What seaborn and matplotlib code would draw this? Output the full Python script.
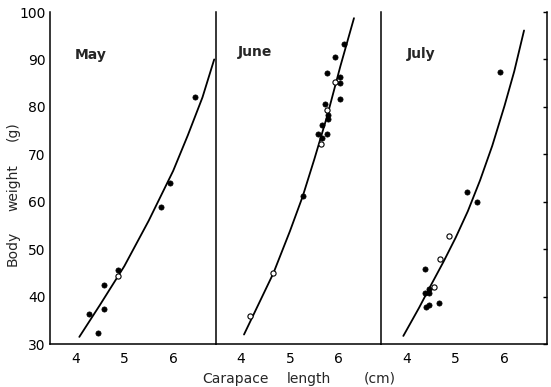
import matplotlib
matplotlib.use("Agg")
import matplotlib.pyplot as plt
import seaborn as sns
import pandas as pd

# ---- data ----
months = ["May", "June", "July"]

may_len = [4.28, 4.47, 4.58, 4.58, 4.88, 4.88, 5.76, 5.94, 6.45]
may_wt = [36.3, 32.3, 42.4, 37.4, 45.6, 44.3, 58.8, 63.9, 82.0]
may_open = [0, 0, 0, 0, 0, 1, 0, 0, 0]
may_curve_len = [4.08, 4.5, 5.0, 5.5, 6.0, 6.3, 6.6, 6.84]
may_curve_wt = [31.5, 38.2, 46.4, 56.0, 66.5, 74.0, 82.0, 90.0]

june_len = [4.18, 4.66, 5.26, 6.10, 5.92, 5.75, 6.02, 5.92, 6.03, 6.02, 5.72,
            5.76, 5.77, 5.78, 5.65, 5.58, 5.76, 5.65, 5.63]
june_wt = [35.9, 44.9, 61.1, 93.3, 90.5, 87.2, 86.3, 85.3, 85.1, 81.6, 80.6,
           79.4, 78.3, 77.5, 76.2, 74.3, 74.2, 73.4, 72.2]
june_open = [1, 1, 0, 0, 0, 0, 0, 1, 0, 0, 0, 1, 0, 0, 0, 0, 0, 0, 1]
june_curve_len = [4.06, 4.66, 5.0, 5.26, 5.5, 5.76, 6.03, 6.31]
june_curve_wt = [32.0, 44.9, 53.8, 61.1, 69.0, 78.0, 88.5, 98.7]

july_len = [4.38, 4.46, 4.55, 4.46, 4.40, 4.46, 4.66, 4.38, 4.68, 4.86, 5.23,
            5.44, 5.91]
july_wt = [40.8, 41.7, 42.1, 40.7, 37.8, 38.3, 38.7, 45.8, 47.9, 52.8, 62.0,
           60.0, 87.3]
july_open = [0, 0, 1, 0, 0, 0, 0, 0, 1, 1, 0, 0, 0]
july_curve_len = [3.93, 4.25, 4.5, 4.75, 5.0, 5.25, 5.5, 5.75, 6.0, 6.2, 6.4]
july_curve_wt = [31.7, 37.6, 42.5, 47.3, 52.4, 58.0, 64.5, 71.8, 80.2, 87.5, 96.1]

x_ticks = [4, 5, 6]
y_ticks = [30, 40, 50, 60, 70, 80, 90, 100]

x_label_words = ["Carapace", "length", "(cm)"]
y_label_words = ["Body", "weight", "(g)"]

panels = [
    (may_len, may_wt, may_open, may_curve_len, may_curve_wt),
    (june_len, june_wt, june_open, june_curve_len, june_curve_wt),
    (july_len, july_wt, july_open, july_curve_len, july_curve_wt),
]

sns.set_theme(style="white")
plt.rcParams["font.family"] = ["DejaVu Sans"]

W, H = 551, 387
fig = plt.figure(figsize=(W / 100, H / 100), dpi=100)
left, right = 50 / W, 547 / W
bottom, top = 1 - 344 / H, 1 - 12 / H
fig.subplots_adjust(left=left, right=right, bottom=bottom, top=top, wspace=0)
axes = fig.subplots(1, 3, sharey=True)

title_pos = [(3.98, 91.0), (3.94, 91.5), (4.0, 91.2)]

for i, (ax, (L, Wt, op, cl, cw)) in enumerate(zip(axes, panels)):
    df = pd.DataFrame({"L": L, "W": Wt, "open": op})
    cdf = pd.DataFrame({"L": cl, "W": cw})
    sns.lineplot(data=cdf, x="L", y="W", ax=ax, color="black", lw=1.3,
                 sort=True, estimator=None)
    filled = df[df["open"] == 0]
    hollow = df[df["open"] == 1]
    sns.scatterplot(data=filled, x="L", y="W", ax=ax, color="black", s=14,
                    edgecolor="black", linewidth=0.5, zorder=3)
    sns.scatterplot(data=hollow, x="L", y="W", ax=ax, facecolor="white", s=14,
                    edgecolor="black", linewidth=0.8, zorder=3)
    ax.set_xlim(3.48, 6.87)
    ax.set_ylim(30, 100)
    ax.set_xticks(x_ticks)
    ax.set_yticks(y_ticks)
    ax.set_xlabel("")
    ax.set_ylabel("")
    ax.spines["top"].set_visible(False)
    for s in ["left", "bottom", "right"]:
        ax.spines[s].set_color("black")
        ax.spines[s].set_linewidth(1.1)
    if i < 2:
        ax.spines["right"].set_visible(False)
    ax.tick_params(axis="x", direction="in", length=3, width=1, colors="black",
                   labelsize=10, pad=6)
    ax.tick_params(axis="y", direction="in", length=3, width=1, colors="black",
                   labelsize=10, pad=3)
    if i == 2:
        ax.tick_params(axis="y", right=True)
    ax.text(title_pos[i][0], title_pos[i][1], months[i], fontsize=10,
            fontweight="bold", ha="left", va="center")

# axis titles, word by word to match the wide spacing of the original
for word, xc in zip(x_label_words, [235, 309, 380]):
    fig.text(xc / W, 1 - 379 / H, word, ha="center", va="center", fontsize=10)
for word, yc in zip(y_label_words, [248, 188, 131]):
    fig.text(13 / W, 1 - yc / H, word, rotation=90, ha="center", va="center",
             fontsize=10)

fig.savefig("out.png", dpi=100, facecolor="white")
